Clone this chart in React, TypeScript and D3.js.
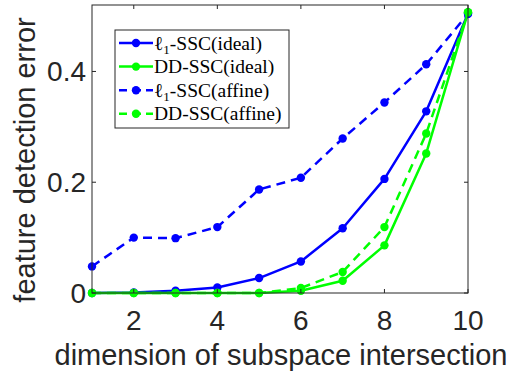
import React from 'react';
import * as d3 from 'd3';

// subspace intersection dimension
const dims = [1, 2, 3, 4, 5, 6, 7, 8, 9, 10];

// feature detection error
const l1Ideal = [0.0, 0.001, 0.004, 0.01, 0.027, 0.057, 0.117, 0.206, 0.328, 0.504];
const ddIdeal = [0.0, 0.0, 0.0, 0.0, 0.0, 0.004, 0.022, 0.086, 0.252, 0.507];
const l1Affine = [0.048, 0.1, 0.099, 0.119, 0.187, 0.208, 0.279, 0.344, 0.413, 0.504];
const ddAffine = [0.0, 0.0, 0.0, 0.0, 0.0, 0.009, 0.038, 0.119, 0.288, 0.507];

const xTicks = [2, 4, 6, 8, 10];
const yTicks = [0, 0.2, 0.4];

const series = [
  { name: 'ideal', prefix: 'ℓ', sub: '1', label: '-SSC(ideal)', values: l1Ideal, color: '#0000ff', dash: null },
  { name: 'dd-ideal', prefix: 'DD', sub: '', label: '-SSC(ideal)', values: ddIdeal, color: '#00ff00', dash: null },
  { name: 'affine', prefix: 'ℓ', sub: '1', label: '-SSC(affine)', values: l1Affine, color: '#0000ff', dash: '9,6' },
  { name: 'dd-affine', prefix: 'DD', sub: '', label: '-SSC(affine)', values: ddAffine, color: '#00ff00', dash: '9,6' },
];

const App = () => {
  const width = 513;
  const height = 372;
  const plot = { left: 92, right: 468, top: 5, bottom: 293 };

  const x = d3.scaleLinear().domain([1, 10]).range([plot.left, plot.right]);
  const y = d3.scaleLinear().domain([0, 0.52]).range([plot.bottom, plot.top]);

  const line = d3.line<number>()
    .x((_, i) => x(dims[i]))
    .y(d => y(d));

  const axisColor = '#262626';
  const sans = 'Liberation Sans, Arial, sans-serif';
  const serif = 'Liberation Serif, Times New Roman, serif';

  // legend box
  const lg = { x: 115, y: 30, w: 174, h: 98 };
  const rowH = 23.6;

  return (
    <svg width={width} height={height} style={{ position: 'absolute', left: 0, top: 0, background: '#fff' }}>
      <rect x={0} y={0} width={width} height={height} fill="#fff" />

      {/* series */}
      {series.map(s => (
        <g key={s.name}>
          <path d={line(s.values) || ''} fill="none" stroke={s.color} strokeWidth={2.5}
            strokeDasharray={s.dash || undefined} strokeLinejoin="round" />
          {s.values.map((v, i) => (
            <circle key={i} cx={x(dims[i])} cy={y(v)} r={4.2} fill={s.color} />
          ))}
        </g>
      ))}

      {/* box */}
      <rect x={plot.left} y={plot.top} width={plot.right - plot.left} height={plot.bottom - plot.top}
        fill="none" stroke={axisColor} strokeWidth={1} />

      {/* x ticks */}
      {xTicks.map(t => (
        <g key={t}>
          <line x1={x(t)} x2={x(t)} y1={plot.bottom} y2={plot.bottom - 4} stroke={axisColor} />
          <line x1={x(t)} x2={x(t)} y1={plot.top} y2={plot.top + 4} stroke={axisColor} />
          <text x={x(t)} y={plot.bottom + 37} textAnchor="middle" fontFamily={sans} fontSize={28} fill={axisColor}>{t}</text>
        </g>
      ))}

      {/* y ticks */}
      {yTicks.map(t => (
        <g key={t}>
          <line x1={plot.left} x2={plot.left + 4} y1={y(t)} y2={y(t)} stroke={axisColor} />
          <line x1={plot.right} x2={plot.right - 4} y1={y(t)} y2={y(t)} stroke={axisColor} />
          <text x={plot.left - 6} y={y(t) + 10} textAnchor="end" fontFamily={sans} fontSize={28} fill={axisColor}>{t === 0 ? '0' : t.toFixed(1)}</text>
        </g>
      ))}

      {/* axis labels */}
      <text x={281} y={365} textAnchor="middle" fontFamily={sans} fontSize={29} fill={axisColor}>
        dimension of subspace intersection
      </text>
      <text transform={`translate(35,160) rotate(-90)`} textAnchor="middle"
        fontFamily={sans} fontSize={29} fill={axisColor}>
        feature detection error
      </text>

      {/* legend */}
      <rect x={lg.x} y={lg.y} width={lg.w} height={lg.h} fill="#fff" stroke={axisColor} strokeWidth={1} />
      {series.map((s, i) => {
        const cy = lg.y + 13 + i * rowH;
        return (
          <g key={s.name}>
            <line x1={lg.x + 4} x2={lg.x + 38} y1={cy} y2={cy} stroke={s.color} strokeWidth={2.5}
              strokeDasharray={s.dash ? '9,5' : undefined} strokeDashoffset={s.dash ? 1 : 0} />
            <circle cx={lg.x + 21} cy={cy} r={4.2} fill={s.color} />
            <text x={lg.x + 39} y={cy + 6.5} fontFamily={serif} fontSize={19.5} fill="#000">
              {s.prefix}
              {s.sub && <tspan fontSize={13} dy={4}>{s.sub}</tspan>}
              <tspan dy={s.sub ? -4 : 0}>{s.label}</tspan>
            </text>
          </g>
        );
      })}
    </svg>
  );
};

export default App;
